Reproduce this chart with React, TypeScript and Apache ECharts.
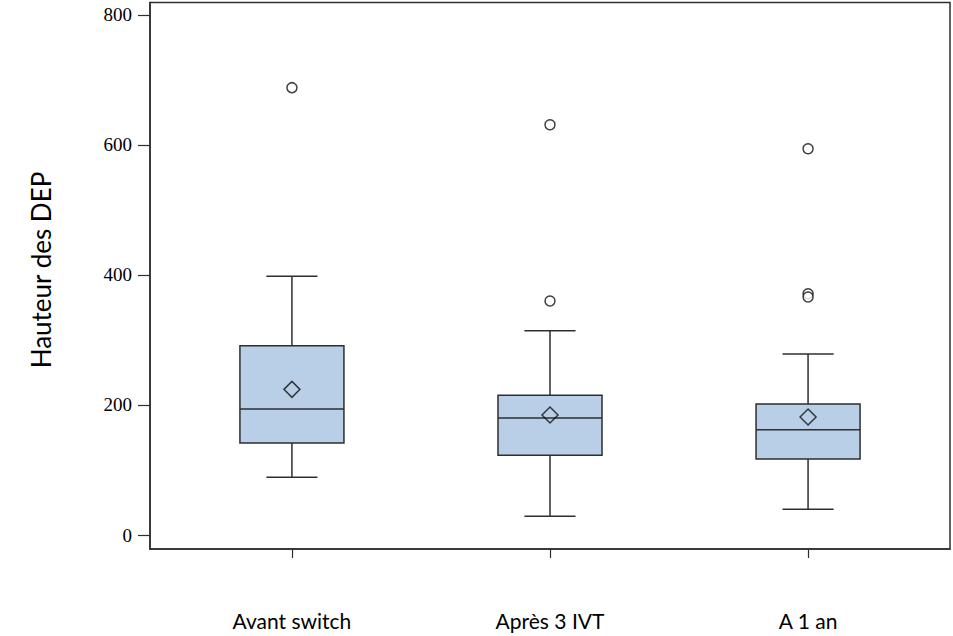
import React, { useEffect, useRef } from "react";
import * as echarts from "echarts";

const categories = ["Avant switch", "Après 3 IVT", "A 1 an"];
const whiskerLow = [89, 29, 39.5];
const q1 = [141.5, 122.5, 117];
const median = [194, 180, 162];
const q3 = [291, 215, 201.5];
const whiskerHigh = [398, 314, 278.5];
const means = [224, 184.5, 181.5];
const outliers: number[][] = [[688], [631, 360], [594, 371, 366]];
const yTicks = [0, 200, 400, 600, 800];

const LINE = "#2e2e2e";

export default function App() {
  const ref = useRef<HTMLDivElement>(null);
  useEffect(() => {
    if (!ref.current) return;
    const chart = echarts.init(ref.current, null, { renderer: "svg" });
    const boxData = categories.map((_, i) => [
      i + 1,
      whiskerLow[i],
      q1[i],
      median[i],
      q3[i],
      whiskerHigh[i],
    ]);
    const outlierData: number[][] = [];
    outliers.forEach((arr, i) => arr.forEach((v) => outlierData.push([i + 1, v])));
    const meanData = means.map((v, i) => [i + 1, v]);

    chart.setOption({
      animation: false,
      grid: {
        left: 150,
        right: 3,
        top: 2.5,
        bottom: 87,
        show: true,
        borderColor: LINE,
        borderWidth: 1.5,
        backgroundColor: "transparent",
      },
      xAxis: {
        type: "value",
        min: 0.45,
        max: 3.55,
        axisLine: { show: true, onZero: false, lineStyle: { color: LINE, width: 1.5 } },
        splitLine: { show: false },
        axisTick: {
          show: true,
          length: 9,
          lineStyle: { color: LINE, width: 1.2 },
          customValues: [1, 2, 3],
        },
        axisLabel: {
          customValues: [1, 2, 3],
          formatter: (v: number) => categories[Math.round(v) - 1] ?? "",
          margin: 61,
          color: "#000",
          fontFamily: "Lato",
          fontSize: 21,
        },
      },
      yAxis: {
        type: "value",
        min: -21.5,
        max: 819,
        axisLine: { show: true, onZero: false, lineStyle: { color: LINE, width: 1.5 } },
        splitLine: { show: false },
        axisTick: {
          show: true,
          length: 12,
          lineStyle: { color: LINE, width: 1.2 },
          customValues: yTicks,
        },
        axisLabel: {
          customValues: yTicks,
          margin: 18,
          color: "#000",
          fontFamily: "Liberation Serif",
          fontSize: 19,
        },
      },
      graphic: [
        {
          type: "text",
          x: 41,
          y: 270,
          rotation: Math.PI / 2,
          style: {
            text: "Hauteur des DEP",
            fontFamily: "Lato",
            fontSize: 26,
            fill: "#000",
            align: "center",
            verticalAlign: "middle",
          },
        },
      ],
      series: [
        {
          type: "custom",
          data: boxData,
          encode: { x: 0, y: [1, 2, 3, 4, 5] },
          renderItem: (params: any, api: any) => {
            const x = api.value(0);
            const pLow = api.coord([x, api.value(1)]);
            const pQ1 = api.coord([x, api.value(2)]);
            const pMed = api.coord([x, api.value(3)]);
            const pQ3 = api.coord([x, api.value(4)]);
            const pHigh = api.coord([x, api.value(5)]);
            const boxW = api.size([0.403, 0])[0];
            const capW = api.size([0.198, 0])[0];
            const cx = pMed[0];
            const ls = { stroke: LINE, lineWidth: 1.5 };
            return {
              type: "group",
              children: [
                { type: "line", shape: { x1: cx, y1: pHigh[1], x2: cx, y2: pQ3[1] }, style: ls },
                { type: "line", shape: { x1: cx, y1: pQ1[1], x2: cx, y2: pLow[1] }, style: ls },
                { type: "line", shape: { x1: cx - capW / 2, y1: pHigh[1], x2: cx + capW / 2, y2: pHigh[1] }, style: ls },
                { type: "line", shape: { x1: cx - capW / 2, y1: pLow[1], x2: cx + capW / 2, y2: pLow[1] }, style: ls },
                {
                  type: "rect",
                  shape: { x: cx - boxW / 2, y: pQ3[1], width: boxW, height: pQ1[1] - pQ3[1] },
                  style: { fill: "#b9cfe7", stroke: LINE, lineWidth: 1.5 },
                },
                { type: "line", shape: { x1: cx - boxW / 2, y1: pMed[1], x2: cx + boxW / 2, y2: pMed[1] }, style: ls },
              ],
            };
          },
          z: 2,
        },
        {
          type: "scatter",
          data: meanData,
          symbol: "diamond",
          symbolSize: [16, 16],
          itemStyle: { color: "transparent", borderColor: "#111", borderWidth: 1.5 },
          z: 3,
        },
        {
          type: "scatter",
          data: outlierData,
          symbol: "circle",
          symbolSize: 10,
          itemStyle: { color: "#fff", borderColor: "#111", borderWidth: 1.5 },
          z: 3,
        },
      ],
    });
    return () => chart.dispose();
  }, []);
  return <div ref={ref} style={{ width: 953, height: 636, position: "absolute", left: 0, top: 0 }} />;
}
